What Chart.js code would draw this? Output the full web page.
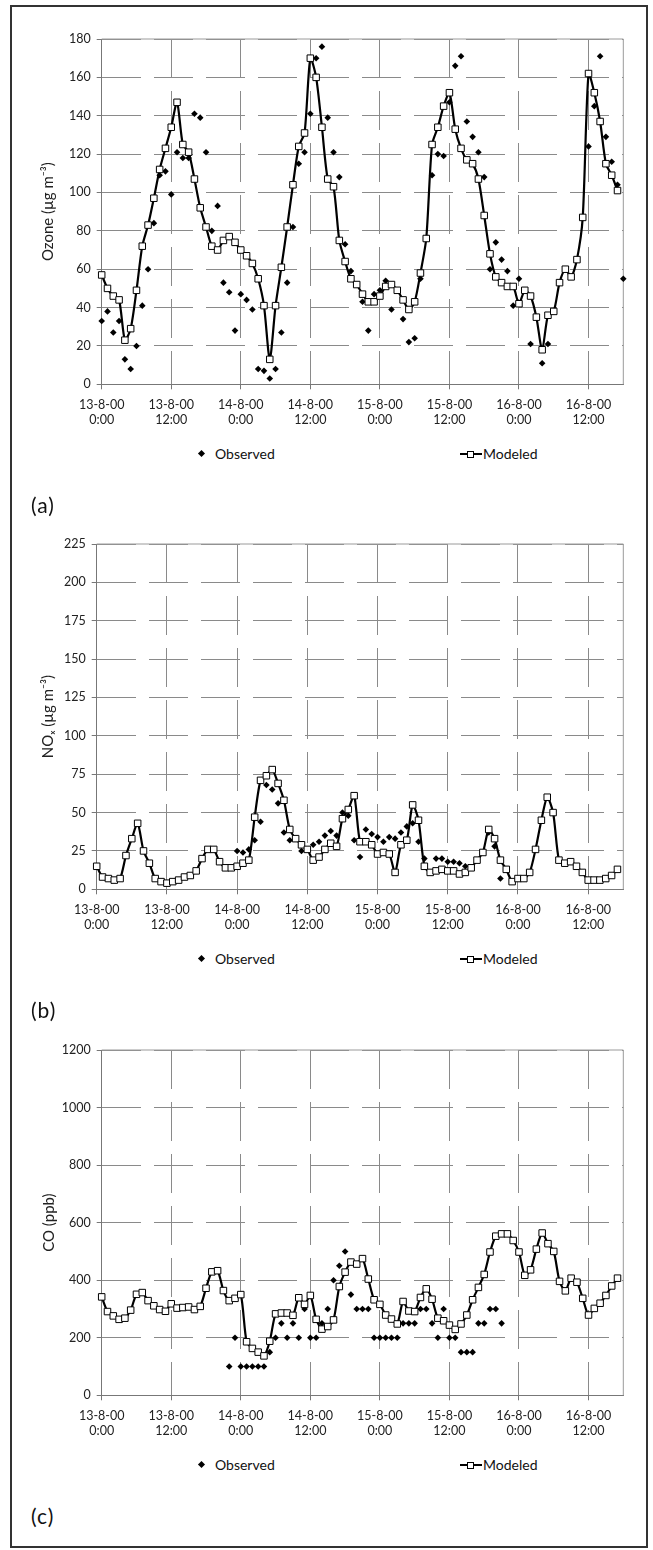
<!DOCTYPE html>
<html>
<head>
<meta charset="utf-8">
<script src="https://cdn.jsdelivr.net/npm/chart.js@4.4.0/dist/chart.umd.min.js"></script>
<style>
    body { margin: 0; background: #fff; }
    #page { position: relative; width: 653px; height: 1550px; font-family: Lato, "DejaVu Sans", sans-serif; color: #111; }
    #frame { position: absolute; left: 10px; top: 5px; width: 634px; height: 1539px; border: 2px solid #333; }
    canvas { position: absolute; left: 0; }
    .lg-text { position: absolute; font-size: 14px; line-height: 16px; white-space: nowrap; }
    .lg-diamond { position: absolute; width: 5px; height: 5px; background: #000; transform: rotate(45deg); }
    .lg-line { position: absolute; width: 22px; height: 2px; background: #000; }
    .lg-square { position: absolute; width: 5px; height: 5px; background: #fff; border: 1px solid #000; }
    .tag { position: absolute; left: 31px; font-size: 21px; line-height: 24px; letter-spacing: 1px; }
</style>
</head>
<body>
<div id="page">
    <div id="frame"></div>
    <canvas id="chartA" width="653" height="440" style="top:0px"></canvas>
    <canvas id="chartB" width="653" height="440" style="top:505px"></canvas>
    <canvas id="chartC" width="653" height="440" style="top:1011px"></canvas>
</div>
<script>
// Trục thời gian: 13-8-00 0:00 đến 16-8-00 18:00, mỗi giờ một điểm
const days = ["13-8-00", "14-8-00", "15-8-00", "16-8-00"];
const hourLabels = [];
days.forEach(d => {
    for (let h = 0; h < 24; h++) {
        if (hourLabels.length < 91) hourLabels.push([d, h + ":00"]);
    }
});

// (a) Ozone
const ozoneObserved = [
    33, 38, 27, 33, 13, 8, 20, 41, 60, 84,
    109, 111, 99, 121, 118, 118, 141, 139, 121, 80,
    93, 53, 48, 28, 47, 44, 39, 8, 7, 3,
    8, 27, 53, 82, 115, 121, 141, 170, 176, 139,
    121, 108, 73, 59, null, 43, 28, 47, 49, 54,
    39, null, 34, 22, 24, 55, null, 109, 120, 119,
    147, 166, 171, 137, 129, 121, 108, 60, 74, 65,
    59, 41, 55, null, 21, null, 11, 21, null, null,
    null, null, null, null, 124, 145, 171, 129, 116, 104,
    55
];
const ozoneModeled = [
    57, 50, 46, 44, 23, 29, 49, 72, 83, 97,
    112, 123, 134, 147, 125, 121, 107, 92, 82, 72,
    70, 75, 77, 74, 70, 67, 63, 55, 41, 13,
    41, 61, 82, 104, 124, 131, 170, 160, 134, 107,
    103, 75, 64, 55, 52, 47, 43, 43, 46, 51,
    52, 49, 44, 39, 43, 58, 76, 125, 134, 145,
    152, 133, 123, 117, 115, 107, 88, 68, 56, 53,
    51, 51, 42, 49, 46, 35, 18, 36, 38, 53,
    60, 56, 65, 87, 162, 152, 137, 115, 109, 101
];

// (b) NOx
const noxObserved = [
    null, null, null, null, null, null, null, null, null, null,
    null, null, null, null, null, null, null, null, null, null,
    null, null, null, null, 25, 24, 26, 32, 44, 68,
    65, 56, 37, 32, null, 25, null, 29, 31, 35,
    38, 35, 50, 48, 32, 21, 39, 36, 34, 31,
    34, 33, 37, 41, 43, 31, 20, null, 20, 20,
    18, 18, 17, 15, null, null, null, 37, 28, 7,
    null, null, null, null, null, null, null, null, null, null,
    null, null, null, null, null, null, null, null, null, null,
    null
];
const noxModeled = [
    15, 8, 7, 6, 7, 22, 33, 43, 25, 17,
    7, 5, 4, 5, 6, 8, 9, 12, 20, 26,
    26, 18, 14, 14, 15, 17, 19, 47, 71, 74,
    78, 69, 58, 39, 33, 29, 26, 19, 21, 26,
    30, 28, 46, 52, 61, 31, 31, 29, 23, 24,
    23, 11, 29, 32, 55, 45, 15, 11, 12, 13,
    12, 12, 10, 11, 14, 19, 24, 39, 33, 19,
    13, 5, 7, 7, 11, 26, 45, 60, 50, 19,
    17, 18, 15, 11, 6, 6, 6, 7, 9, 13
];

// (c) CO
const coObserved = [
    null, null, null, null, null, null, null, null, null, null,
    null, null, null, null, null, null, null, null, null, null,
    null, null, 100, 200, 100, 100, 100, 100, 100, 150,
    200, 250, 200, 250, 200, 300, 200, 200, 250, 300,
    400, 450, 500, 350, 300, 300, 300, 200, 200, 200,
    200, 200, 250, 250, 250, 300, 300, 250, 200, 300,
    200, 200, 150, 150, 150, 250, 250, 300, 300, 250,
    null, null, null, null, null, null, null, null, null, null,
    null, null, null, null, null, null, null, null, null, null,
    null
];
const coModeled = [
    342, 291, 276, 264, 268, 296, 351, 357, 329, 311,
    298, 292, 318, 303, 305, 307, 298, 309, 372, 429,
    433, 364, 329, 337, 350, 186, 163, 150, 137, 188,
    283, 286, 286, 278, 339, 316, 347, 264, 230, 239,
    262, 378, 428, 463, 456, 475, 404, 332, 316, 279,
    265, 248, 326, 293, 291, 340, 370, 334, 268, 259,
    244, 229, 248, 279, 332, 375, 420, 498, 553, 561,
    561, 538, 498, 417, 436, 508, 564, 527, 500, 396,
    363, 407, 393, 337, 279, 302, 320, 347, 380, 407
];

const FONT = "Lato, 'DejaVu Sans', sans-serif";

// Khung xám phía trên và bên phải vùng vẽ
const plotFrame = {
    id: "plotFrame",
    beforeDatasetsDraw(chart) {
        const { ctx, chartArea: a } = chart;
        ctx.save();
        ctx.strokeStyle = "#9a9a9a";
        ctx.lineWidth = 1;
        ctx.beginPath();
        ctx.moveTo(a.left, a.top);
        ctx.lineTo(a.right, a.top);
        ctx.lineTo(a.right, a.bottom);
        ctx.stroke();
        ctx.restore();
    }
};

const panels = [
    { canvas: "chartA", top: 0, left: 101.7, max: 180, step: 20, title: "Ozone (µg m⁻³)", titleX: 48, observed: ozoneObserved, modeled: ozoneModeled, tag: "(a)" },
    { canvas: "chartB", top: 505, left: 96.7, max: 225, step: 25, title: "NOₓ (µg m⁻³)", titleX: 48, observed: noxObserved, modeled: noxModeled, tag: "(b)" },
    { canvas: "chartC", top: 1011, left: 101.7, max: 1200, step: 200, title: "CO (ppb)", titleX: 49, observed: coObserved, modeled: coModeled, tag: "(c)" }
];

function createChart(p) {
    const ctx = document.getElementById(p.canvas).getContext("2d");
    return new Chart(ctx, {
        type: "line",
        data: {
            labels: hourLabels,
            datasets: [
                {
                    label: "Observed",
                    data: p.observed,
                    showLine: false,
                    pointStyle: "rectRot",
                    pointRadius: 3.3,
                    pointBackgroundColor: "#000",
                    pointBorderWidth: 0,
                    clip: false,
                    order: 2
                },
                {
                    label: "Modeled",
                    data: p.modeled,
                    borderColor: "#000",
                    borderWidth: 2.2,
                    tension: 0.25,
                    pointStyle: "rect",
                    pointRadius: 4.6,
                    pointBackgroundColor: "#fff",
                    pointBorderColor: "#000",
                    pointBorderWidth: 1,
                    clip: false,
                    order: 1
                }
            ]
        },
        options: {
            responsive: false,
            animation: false,
            events: [],
            layout: { padding: { top: 39, right: 29.7, left: 0, bottom: 5.7 } },
            plugins: { legend: { display: false }, tooltip: { enabled: false } },
            scales: {
                x: {
                    type: "category",
                    offset: false,
                    grid: { color: "#8a8a8a", lineWidth: 1, tickLength: 5, tickColor: "#777" },
                    border: { color: "#777", width: 1, dash: [39, 13] },
                    ticks: { autoSkip: false, maxRotation: 0, minRotation: 0, padding: 8.5, color: "#222", font: { family: FONT, size: 12.5 } },
                    afterBuildTicks: s => { s.ticks = s.ticks.filter(t => t.value % 12 === 0); },
                    afterFit: s => { s.height = 50; }
                },
                y: {
                    min: 0,
                    max: p.max,
                    grid: { color: "#8a8a8a", lineWidth: 1, tickLength: 5, tickColor: "#777" },
                    border: { color: "#777", width: 1, dash: [39, 13] },
                    ticks: { stepSize: p.step, padding: 6, color: "#222", font: { family: FONT, size: 12.5 }, callback: v => String(v) },
                    title: { display: true, text: p.title, color: "#222", font: { family: FONT, size: 15 }, padding: { top: p.titleX - 9, bottom: 0 } },
                    afterFit: s => { s.width = p.left; }
                }
            }
        },
        plugins: [plotFrame]
    });
}

function addLegend(p) {
    const page = document.getElementById("page");
    const y = p.top + 454;
    const add = (cls, css, text) => {
        const el = document.createElement("div");
        el.className = cls;
        Object.assign(el.style, css);
        if (text) el.textContent = text;
        page.appendChild(el);
    };
    add("lg-diamond", { left: "199px", top: (y - 3) + "px" });
    add("lg-text", { left: "215px", top: (y - 8) + "px" }, "Observed");
    add("lg-line", { left: "460px", top: (y - 1) + "px" });
    add("lg-square", { left: "467px", top: (y - 3.5) + "px" });
    add("lg-text", { left: "483px", top: (y - 8) + "px" }, "Modeled");
    add("tag", { top: (p.top + 493) + "px" }, p.tag);
}

panels.forEach(p => {
    createChart(p);
    addLegend(p);
});
</script>
</body>
</html>
